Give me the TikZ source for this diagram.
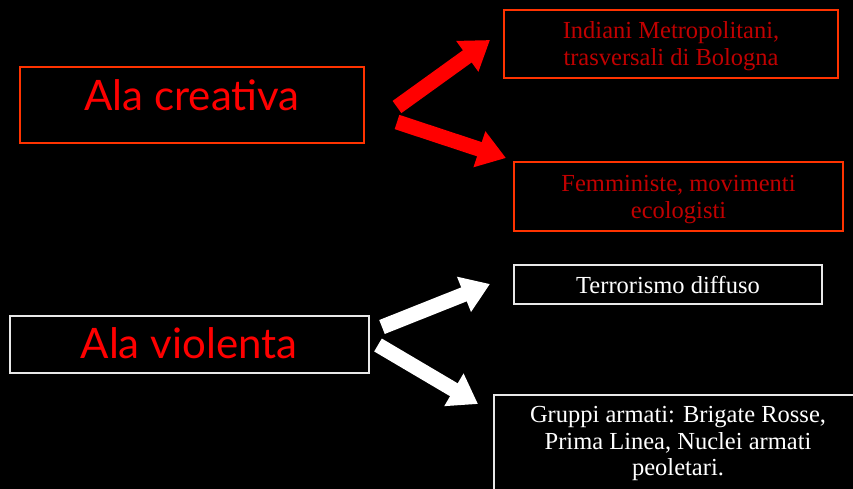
\documentclass[tikz,border=0pt]{standalone}
\usepackage{fontspec}
\setmainfont{Liberation Serif}
\newfontfamily\headfont{Lato}
\usetikzlibrary{arrows.meta}
\definecolor{boxred}{HTML}{FF3300}
\definecolor{txtred}{HTML}{C00000}
\definecolor{headred}{HTML}{FF0000}
\definecolor{boxwhite}{HTML}{E8E8E8}
\tikzset{
  framebox/.style={draw, line width=1.6pt, inner sep=0pt},
  smalltext/.style={inner sep=0pt, align=center, font=\fontsize{24.5}{26.5}\selectfont},
  headtext/.style={font=\headfont\fontsize{42}{44}\selectfont, text=headred},
  bigarrow/.style={line width=15pt, -{Triangle[width=36pt,length=28pt]}},
}
\begin{document}
\begin{tikzpicture}[x=1pt,y=-1pt]
\fill[black] (0,0) rectangle (853,489);
\useasboundingbox (0,0) rectangle (853,489);
% left boxes
\node[framebox, draw=boxred, line width=1.5pt, minimum width=344pt, minimum height=76pt] (crea) at (192,105) {};
\node[headtext] (creat) at (192,95) {Ala creativa};
\node[framebox, draw=boxwhite, line width=1.5pt, minimum width=359pt, minimum height=57pt] (viol) at (189.5,344.5) {};
\node[headtext] (violt) at (189,343) {Ala violenta};
% right boxes
\node[framebox, draw=boxred, minimum width=334pt, minimum height=68pt] (ind) at (671,44) {};
\node[smalltext, text=txtred] (indt) at (671,46) {Indiani Metropolitani,\\trasversali di Bologna};
\node[framebox, draw=boxred, minimum width=329pt, minimum height=69pt] (fem) at (678.5,196.5) {};
\node[smalltext, text=txtred] (femt) at (678.5,199.5) {Femministe, movimenti\\ecologisti};
\node[framebox, draw=boxwhite, minimum width=308pt, minimum height=39pt] (ter) at (668,284.5) {};
\node[smalltext, text=white] (tert) at (668,285) {Terrorismo diffuso};
\draw[boxwhite, line width=1.6pt] (880,395) -- (494,395) -- (494,500);
\node[smalltext, text=white] (grp) at (678,443.5) {Gruppi armati: Brigate Rosse,\\Prima Linea, Nuclei armati\\peoletari.};
% arrows
\coordinate (a1s) at (397,107); \coordinate (a1e) at (490,40);
\coordinate (a2s) at (397,122); \coordinate (a2e) at (506,158);
\coordinate (a3s) at (382,327); \coordinate (a3e) at (490,284);
\coordinate (a4s) at (378,345); \coordinate (a4e) at (478,404);
\draw[bigarrow, headred] (a1s) -- (a1e);
\draw[bigarrow, headred] (a2s) -- (a2e);
\draw[bigarrow, white] (a3s) -- (a3e);
\draw[bigarrow, white] (a4s) -- (a4e);
\end{tikzpicture}
\end{document}
